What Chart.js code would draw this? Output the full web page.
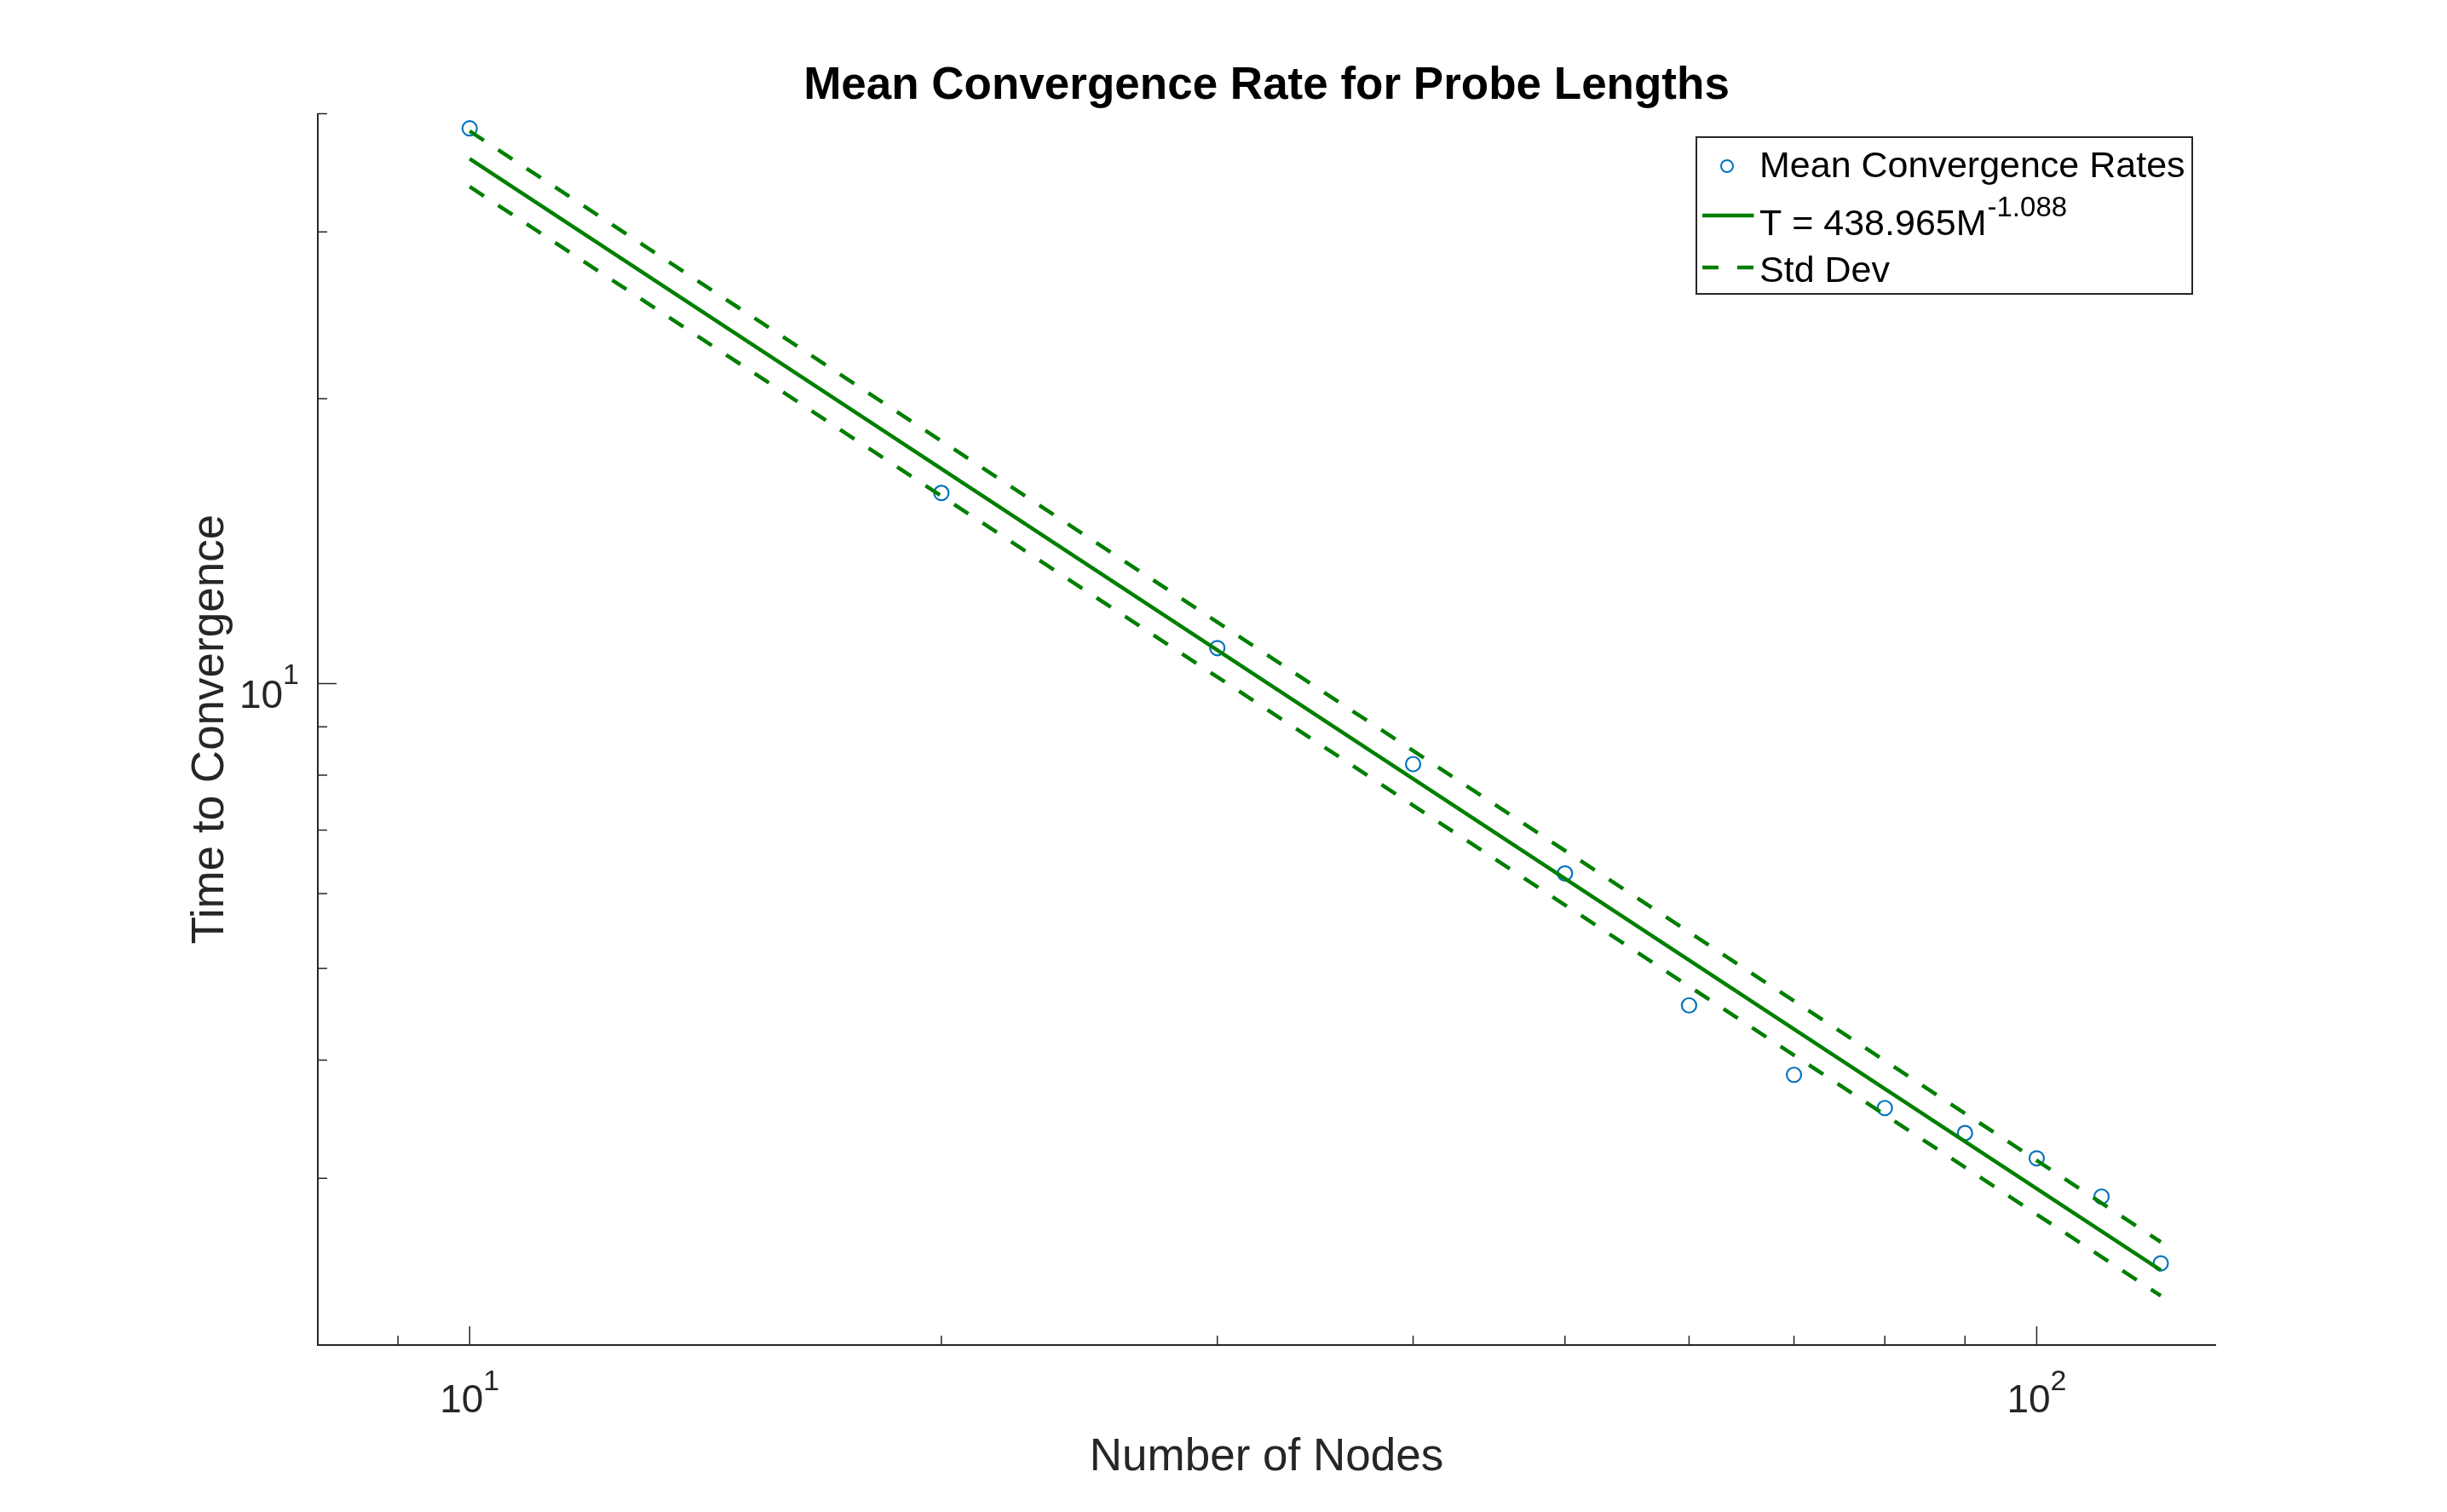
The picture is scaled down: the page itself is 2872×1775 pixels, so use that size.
<!DOCTYPE html>
<html>
<head>
    <meta charset="utf-8">
    <style>
        html, body { margin: 0; padding: 0; background: #ffffff; }
        #chartContainer { width: 2872px; height: 1775px; }
    </style>
</head>
<body>
    <div id="chartContainer">
        <canvas id="myChart" width="2872" height="1775"></canvas>
    </div>

<script src="https://cdn.jsdelivr.net/npm/chart.js@4.4.0/dist/chart.umd.min.js"></script>
<script>
    // values
    const nodes = [10, 20, 30, 40, 50, 60, 70, 80, 90, 100, 110, 120];
    const meanRates = [38.6, 15.9, 10.9, 8.22, 6.30, 4.57, 3.86, 3.56, 3.35, 3.15, 2.87, 2.44];

    // power-law fit and std dev bands (end points of each straight log-log line)
    const fitNodes = [10, 120];
    const fitTimes = [35.85, 2.40];
    const stdUpper = [38.35, 2.57];
    const stdLower = [33.5, 2.255];
    const fitCoef = '438.965';
    const fitExp = '-1.088';

    // axis ticks
    const xMajorTicks = [10, 100];
    const xMinorTicks = [9, 20, 30, 40, 50, 60, 70, 80, 90];
    const yMajorTicks = [10];
    const yMinorTicks = [3, 4, 5, 6, 7, 8, 9, 20, 30, 40];

    const axisColor = '#262626';
    const green = '#007f00';
    const blue = '#0072BD';
    const fontFamily = "'Liberation Sans', Arial, Helvetica, sans-serif";

    Chart.defaults.font.family = fontFamily;

    function toXY(xs, ys) {
        return xs.map((v, i) => ({ x: v, y: ys[i] }));
    }

    // "10" with a raised exponent, like MATLAB log tick labels
    function drawPower(ctx, value, anchorX, baseLine, supLine, align) {
        const exp = String(Math.round(Math.log10(value)));
        ctx.font = '46px ' + fontFamily;
        const wBase = ctx.measureText('10').width;
        ctx.font = '34px ' + fontFamily;
        const wSup = ctx.measureText(exp).width;
        const total = wBase + wSup;
        let left = align === 'right' ? anchorX - total : anchorX - total / 2;
        ctx.textAlign = 'left';
        ctx.textBaseline = 'alphabetic';
        ctx.font = '46px ' + fontFamily;
        ctx.fillText('10', left, baseLine);
        ctx.font = '34px ' + fontFamily;
        ctx.fillText(exp, left + wBase, supLine);
    }

    // inward tick marks and tick labels
    const axisDecor = {
        id: 'axisDecor',
        afterDraw(chart) {
            const { ctx, chartArea: a, scales: { x, y } } = chart;
            ctx.save();
            ctx.strokeStyle = axisColor;
            ctx.lineWidth = 1.5;
            ctx.beginPath();
            xMajorTicks.forEach(v => { const p = x.getPixelForValue(v); ctx.moveTo(p, a.bottom); ctx.lineTo(p, a.bottom - 22); });
            xMinorTicks.forEach(v => { const p = x.getPixelForValue(v); ctx.moveTo(p, a.bottom); ctx.lineTo(p, a.bottom - 11); });
            yMajorTicks.forEach(v => { const p = y.getPixelForValue(v); ctx.moveTo(a.left, p); ctx.lineTo(a.left + 22, p); });
            yMinorTicks.forEach(v => { const p = y.getPixelForValue(v); ctx.moveTo(a.left, p); ctx.lineTo(a.left + 11, p); });
            ctx.stroke();

            ctx.fillStyle = axisColor;
            xMajorTicks.forEach(v => {
                const p = x.getPixelForValue(v);
                drawPower(ctx, v, p, a.bottom + 79, a.bottom + 52.5, 'center');
            });
            yMajorTicks.forEach(v => {
                const p = y.getPixelForValue(v);
                drawPower(ctx, v, a.left - 22, p + 29, p + 0.5, 'right');
            });
            ctx.restore();
        }
    };

    // boxed legend in the top right corner of the axes
    const boxLegend = {
        id: 'boxLegend',
        afterDatasetsDraw(chart) {
            const { ctx, chartArea: a } = chart;
            const w = 582, h = 184;
            const lx = a.right - 27 - w, ly = a.top + 27.5;
            ctx.save();
            ctx.fillStyle = '#ffffff';
            ctx.fillRect(lx, ly, w, h);
            ctx.strokeStyle = axisColor;
            ctx.lineWidth = 2;
            ctx.strokeRect(lx, ly, w, h);

            // row 1: marker
            ctx.strokeStyle = blue;
            ctx.lineWidth = 2;
            ctx.beginPath();
            ctx.arc(lx + 36, ly + 34, 7, 0, Math.PI * 2);
            ctx.stroke();

            // row 2: solid line, row 3: dashed line
            ctx.strokeStyle = green;
            ctx.lineWidth = 4.5;
            ctx.beginPath();
            ctx.moveTo(lx + 7, ly + 92);
            ctx.lineTo(lx + 67.5, ly + 92);
            ctx.stroke();
            ctx.setLineDash([19, 22]);
            ctx.beginPath();
            ctx.moveTo(lx + 7, ly + 153);
            ctx.lineTo(lx + 67.5, ly + 153);
            ctx.stroke();
            ctx.setLineDash([]);

            ctx.fillStyle = '#000000';
            ctx.textAlign = 'left';
            ctx.textBaseline = 'alphabetic';
            ctx.font = '43px ' + fontFamily;
            ctx.fillText('Mean Convergence Rates', lx + 74, ly + 47);
            const fitText = 'T = ' + fitCoef + 'M';
            ctx.fillText(fitText, lx + 74, ly + 115);
            const wFit = ctx.measureText(fitText).width;
            ctx.fillText('Std Dev', lx + 74, ly + 170);
            ctx.font = '33px ' + fontFamily;
            ctx.fillText(fitExp, lx + 74 + wFit + 1, ly + 93);
            ctx.restore();
        }
    };

    var ctx = document.getElementById('myChart').getContext('2d');
    var myChart = new Chart(ctx, {
        type: 'scatter',
        data: {
            datasets: [
                {
                    label: 'Mean Convergence Rates',
                    data: toXY(nodes, meanRates),
                    pointStyle: 'circle',
                    pointRadius: 8.5,
                    pointBorderWidth: 2.2,
                    pointBorderColor: blue,
                    pointBackgroundColor: 'rgba(0,0,0,0)',
                    showLine: false,
                    order: 2
                },
                {
                    label: 'T = ' + fitCoef + 'M^' + fitExp,
                    data: toXY(fitNodes, fitTimes),
                    showLine: true,
                    borderColor: green,
                    borderWidth: 4.5,
                    pointRadius: 0,
                    order: 1
                },
                {
                    label: 'Std Dev',
                    data: toXY(fitNodes, stdUpper),
                    showLine: true,
                    borderColor: green,
                    borderWidth: 4.5,
                    borderDash: [20, 20],
                    pointRadius: 0,
                    order: 1
                },
                {
                    label: 'Std Dev (lower)',
                    data: toXY(fitNodes, stdLower),
                    showLine: true,
                    borderColor: green,
                    borderWidth: 4.5,
                    borderDash: [20, 20],
                    pointRadius: 0,
                    order: 1
                }
            ]
        },
        options: {
            responsive: false,
            devicePixelRatio: 1,
            animation: false,
            layout: { padding: { top: 0, left: 0, right: 272, bottom: 0 } },
            plugins: {
                legend: { display: false },
                tooltip: { enabled: false },
                title: {
                    display: true,
                    text: 'Mean Convergence Rate for Probe Lengths',
                    fullSize: false,
                    color: '#000000',
                    font: { size: 53, weight: 'bold', lineHeight: 1.2 },
                    padding: { top: 69.9, bottom: 0 }
                }
            },
            scales: {
                x: {
                    type: 'logarithmic',
                    position: 'bottom',
                    min: 8,
                    max: 130,
                    ticks: { display: false },
                    grid: { display: false, drawTicks: false },
                    border: { display: true, color: axisColor, width: 2 },
                    title: {
                        display: true,
                        text: 'Number of Nodes',
                        color: axisColor,
                        font: { size: 53, lineHeight: 1.2 },
                        padding: { top: 100.4, bottom: 32 }
                    }
                },
                y: {
                    type: 'logarithmic',
                    position: 'left',
                    min: 2,
                    max: 40,
                    ticks: { display: false },
                    grid: { display: false, drawTicks: false },
                    border: { display: true, color: axisColor, width: 2 },
                    title: {
                        display: true,
                        text: 'Time to Convergence',
                        color: axisColor,
                        font: { size: 53, lineHeight: 1.2 },
                        padding: { top: 216, bottom: 93.4 }
                    }
                }
            }
        },
        plugins: [axisDecor, boxLegend]
    });
</script>
</body>
</html>
